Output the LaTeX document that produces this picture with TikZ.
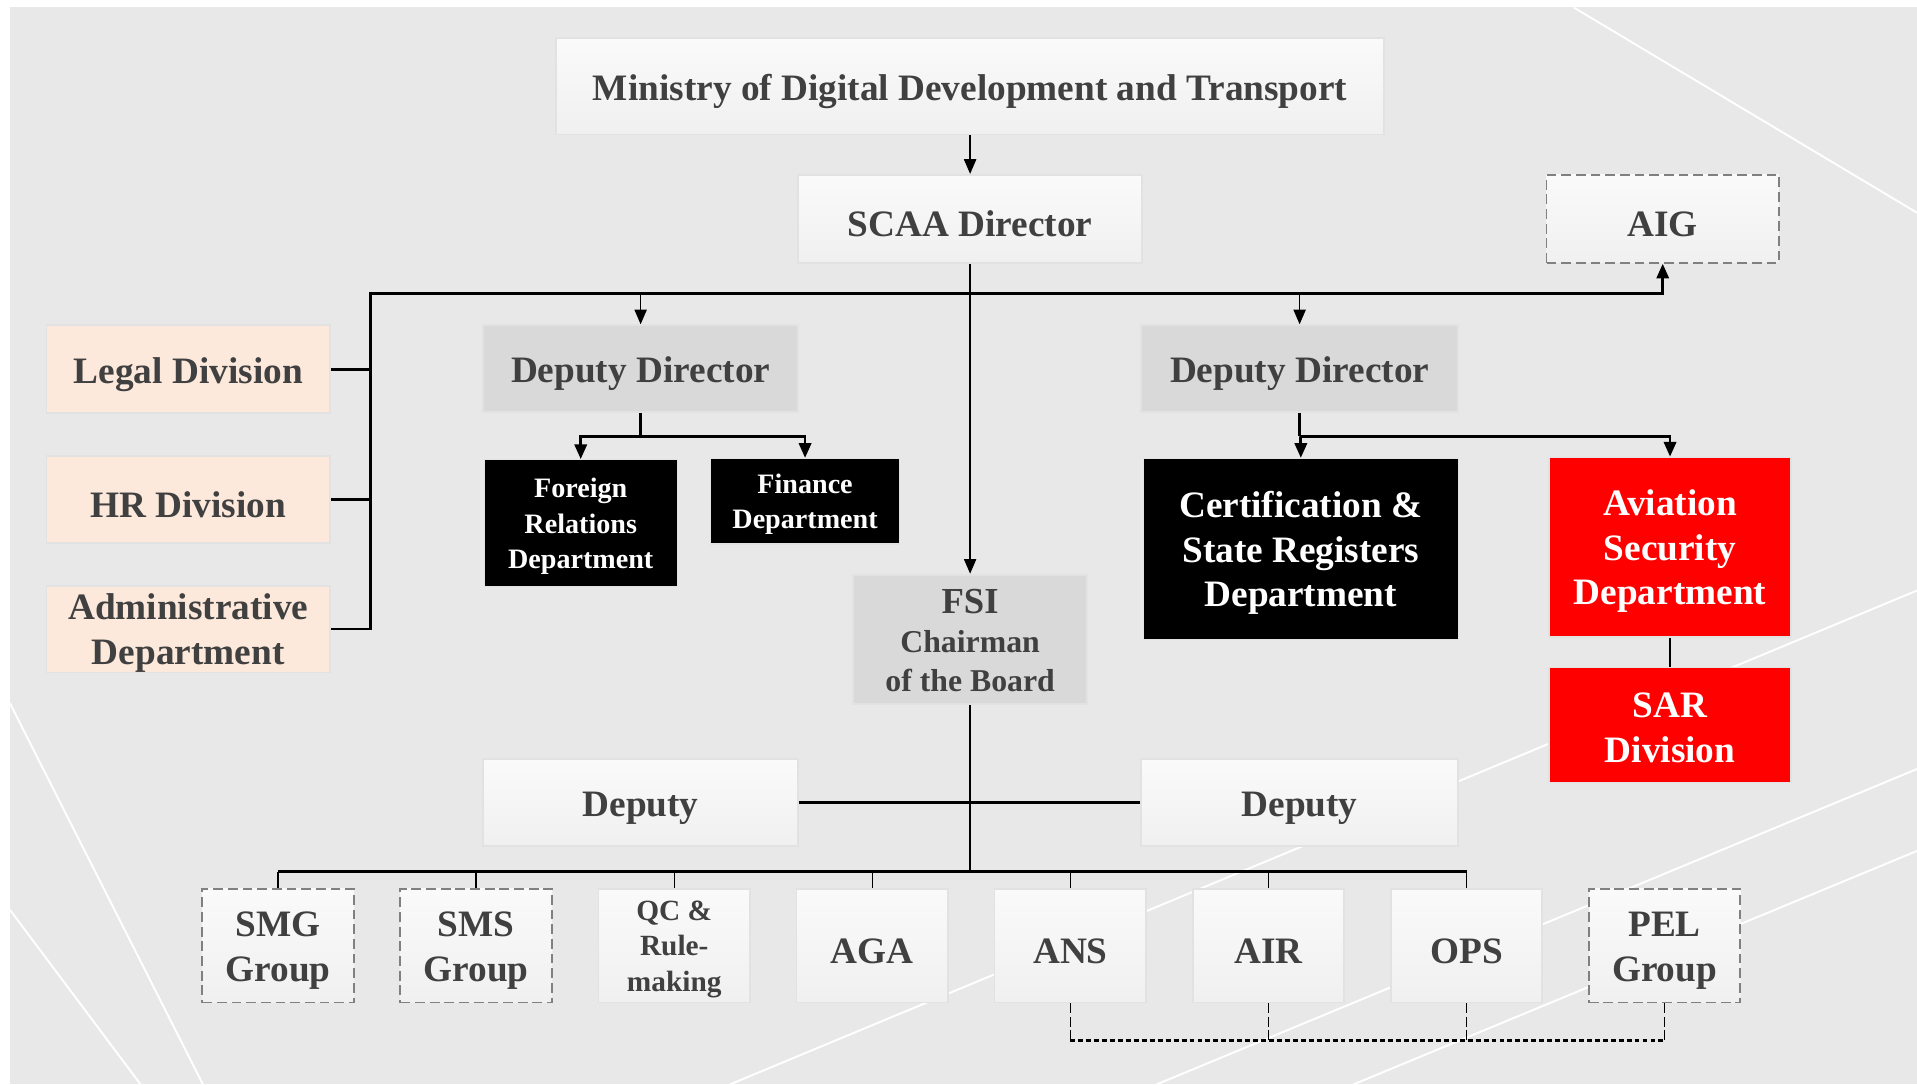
\documentclass[tikz,border=0pt]{standalone}
\usepackage{fontspec}
\setmainfont{Liberation Serif}
\usetikzlibrary{arrows.meta,positioning}
\definecolor{bgfill}{HTML}{E8E8E8}
\definecolor{txtgray}{HTML}{404040}
\definecolor{boxtop}{HTML}{FAFAFA}
\definecolor{boxbot}{HTML}{F0F0F0}
\definecolor{boxedge}{HTML}{E2E2E2}
\definecolor{greyfill}{HTML}{D9D9D9}
\definecolor{peachfill}{HTML}{FCE9DB}
\definecolor{dashgray}{HTML}{808080}
\definecolor{redfill}{HTML}{FF0000}
\def\strutcenter{\hfil\rule[-0.12em]{0pt}{1.04em}##\hfil\cr}

\begin{document}
\begin{tikzpicture}[x=1pt,y=-1pt,->,>={Triangle[length=12pt,width=10pt]},node distance=162pt]
\tikzstyle{box}=[rectangle,inner sep=0pt,node halign header=\strutcenter,execute at begin node={\rule{0pt}{0.97em}},text=txtgray,font=\bfseries\fontsize{30.5}{36.5}\selectfont]
\tikzstyle{whitebox}=[box,top color=boxtop,bottom color=boxbot,draw=boxedge,line width=1.5pt]
\tikzstyle{greybox}=[box,fill=greyfill,draw=boxedge,line width=1.5pt]
\tikzstyle{peachbox}=[box,fill=peachfill,draw=boxedge,line width=1.5pt]
\tikzstyle{blackbox}=[box,fill=black,text=white,draw=boxedge,line width=1pt]
\tikzstyle{redbox}=[box,fill=redfill,text=white,draw=boxedge,line width=1pt]
\tikzstyle{dashbox}=[whitebox,draw=dashgray,dash pattern=on 8pt off 4pt]
\tikzstyle{cell}=[minimum width=124pt,minimum height=93pt]
\tikzstyle{busline}=[line width=2.2pt]
\tikzstyle{thinline}=[line width=1.2pt]
\tikzstyle{streak}=[-,white,line width=1.6pt]
\useasboundingbox (0,0) rectangle (1568,887);
\fill[white] (0,0) rectangle (1568,887);
\fill[bgfill] (8,6) rectangle (1568,887);
\draw[streak] (1287,6) -- (1568,174);
\draw[streak] (8,575) -- (166,887);
\draw[streak] (8,744) -- (115,887);
\draw[streak] (597,887) -- (1568,483);
\draw[streak] (946,887) -- (1568,629);
\draw[streak] (1107,887) -- (1568,696);

\node[whitebox,minimum width=677pt,minimum height=79pt] (ministry) at (793.5,70.5) {Ministry of Digital Development and Transport};
\node[whitebox,minimum width=281pt,minimum height=72pt] (scaa) at (793.5,179) {SCAA Director};
\node[dashbox,minimum width=190pt,minimum height=72pt] (aig) at (1360,179) {AIG};
\node[peachbox,minimum width=232pt,minimum height=72pt] (legal) at (154,302) {Legal Division};
\node[peachbox,minimum width=232pt,minimum height=71pt] (hr) at (154,408.5) {HR Division};
\node[peachbox,minimum width=232pt,minimum height=71pt] (admin) at (154,514.5) {Administrative\\Department};
\node[greybox,minimum width=258pt,minimum height=71pt] (dd1) at (524,301.5) {Deputy Director};
\node[greybox,minimum width=259pt,minimum height=71pt] (dd2) at (1063,301.5) {Deputy Director};
\node[blackbox,minimum width=158pt,minimum height=104pt,font=\bfseries\fontsize{23}{29}\selectfont] (foreign) at (475,428) {Foreign\\Relations\\Department};
\node[blackbox,minimum width=155pt,minimum height=70pt,font=\bfseries\fontsize{23}{29}\selectfont] (finance) at (658.5,410) {Finance\\Department};
\node[blackbox,minimum width=258pt,minimum height=148pt] (cert) at (1064,449) {Certification \&\\State Registers\\Department};
\node[redbox,minimum width=198pt,minimum height=147pt] (avsec) at (1366,447.5) {Aviation\\Security\\Department};
\node[redbox,minimum width=198pt,minimum height=94pt] (sar) at (1366,593) {SAR\\Division};
\node[greybox,minimum width=191pt,minimum height=106pt,font=\bfseries\fontsize{26}{32}\selectfont] (fsi) at (793.5,523) {{\fontsize{30}{33}\selectfont FSI}\\Chairman\\of the Board};
\node[whitebox,minimum width=258pt,minimum height=71pt] (dep1) at (524,656.5) {Deputy};
\node[whitebox,minimum width=259pt,minimum height=71pt] (dep2) at (1063,656.5) {Deputy};
\node[dashbox,cell] (smg) at (227.5,773.5) {SMG\\Group};
\node[dashbox,cell] (sms) [right of=smg] {SMS\\Group};
\node[whitebox,cell,font=\bfseries\fontsize{24}{29}\selectfont] (qc) [right of=sms] {QC \&\\Rule-\\making};
\node[whitebox,cell] (aga) [right of=qc] {AGA};
\node[whitebox,cell] (ans) [right of=aga] {ANS};
\node[whitebox,cell] (air) [right of=ans] {AIR};
\node[whitebox,cell] (ops) [right of=air] {OPS};
\node[dashbox,cell] (pel) [right of=ops] {PEL\\Group};

\coordinate (busL) at (303,240);
\coordinate (busB) at (793.5,713);
\coordinate (dashY) at (0,851);
\draw[thinline] (ministry) -- (scaa);
\draw[busline] (admin.east) -| (busL) -| (aig.south);
\draw[busline,-] (legal.east) -- (legal.east -| busL);
\draw[busline,-] (hr.east) -- (hr.east -| busL);
\draw[thinline] (scaa) -- (fsi);
\draw[thinline] (dd1.north |- busL) -- (dd1);
\draw[thinline] (dd2.north |- busL) -- (dd2);
\draw[busline,-] (dd1.south) -- ++(0,19) coordinate (j1);
\draw[busline] (j1) -| (foreign);
\draw[busline] (j1) -| (finance);
\draw[busline,-] (dd2.south) -- ++(0,19) coordinate (j2);
\draw[busline] (j2) -| (cert);
\draw[busline] (j2) -| (avsec);
\draw[thinline,-] (avsec) -- (sar);
\draw[thinline,-] (fsi) -- (busB);
\draw[busline,-] (dep1) -- (dep2);
\draw[busline,-] (smg.north |- busB) -- (ops.north |- busB);
\foreach \n in {smg,sms,qc,aga,ans,air,ops}
  \draw[thinline,-] (\n.north |- busB) -- (\n);
\foreach \n in {ans,air,ops,pel}
  \draw[thinline,-,dash pattern=on 8pt off 3pt] (\n) -- (\n.south |- dashY);
\draw[-,line width=2pt,dash pattern=on 4pt off 2.5pt] (ans.south |- dashY) -- (pel.south |- dashY);
\end{tikzpicture}
\end{document}
